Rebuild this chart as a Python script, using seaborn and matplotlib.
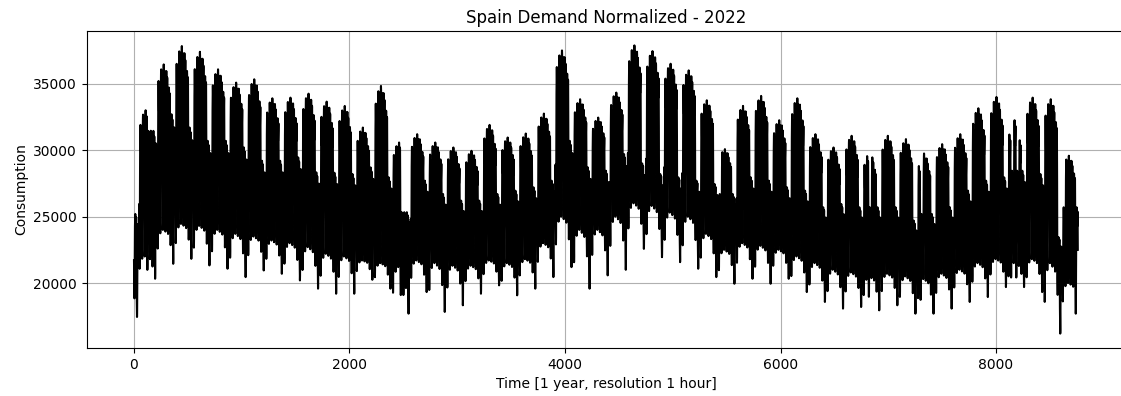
import numpy as np
import pandas as pd
import matplotlib
matplotlib.use("Agg")
import matplotlib.pyplot as plt
import seaborn as sns

# ---- data (week index 0 = Sat/Sun Jan 1-2, weeks start on Monday) ----
weekday_peak = [25200, 33000, 36450, 37830, 37400, 36080, 35080, 35330, 33900, 33950,
                34250, 33650, 33325, 31700, 34830, 30575, 31200, 30575, 30200, 29950,
                31900, 30950, 31250, 32750, 37500, 33830, 32450, 34330, 37880, 37450,
                36500, 36000, 33750, 30075, 33330, 34080, 32250, 33900, 31200, 30200,
                31080, 29830, 31080, 30830, 29750, 30450, 31200, 33150, 34000, 32250,
                33950, 33830, 29580]
weekday_low = [20000, 22000, 24000, 24450, 24300, 24000, 23700, 23500, 23200, 23000,
               22700, 22200, 22000, 21700, 21500, 21200, 21700, 21500, 21300, 21300,
               21700, 21500, 21800, 23000, 25000, 24000, 24000, 25000, 26000, 25800,
               25300, 25000, 23700, 22500, 23000, 22800, 22500, 22000, 21500, 21000,
               20800, 20500, 20700, 20500, 20300, 20700, 21000, 21500, 21800, 21500,
               21800, 21500, 20000]
weekend_peak = [25200, 31450, 32700, 31700, 30700, 30700, 30200, 29200, 29200, 29450,
                28330, 28300, 28200, 28700, 27950, 25330, 27700, 26700, 26200, 26200,
                26700, 26950, 27200, 27700, 30700, 28700, 28450, 29700, 29000, 28200,
                27950, 27700, 27450, 26700, 27950, 27700, 27200, 26950, 25700, 25950,
                25700, 25700, 25700, 24700, 25200, 25700, 26950, 27700, 27950, 28450,
                28200, 23450, 25700]
weekend_low = [17450, 20325, 21450, 21825, 21330, 21080, 20450, 20950, 20700, 20200,
               19580, 19200, 19200, 20250, 19580, 17700, 19325, 17830, 18330, 19200,
               19830, 19080, 19580, 20450, 21200, 19580, 20580, 21000, 22575, 21950,
               21575, 21080, 20450, 19950, 20325, 19950, 20325, 19325, 18580, 18080,
               18200, 17950, 18330, 17700, 17700, 18080, 18580, 18950, 19700, 19700,
               19325, 16200, 17700]
# national holidays (day of year, 0 = Jan 1)
holidays = [5, 103, 104, 226, 284, 304, 339, 341, 359]
# typical normalized daily profile (0 = night minimum, 1 = daily peak)
daily_profile = [0.45, 0.30, 0.16, 0.06, 0.00, 0.04, 0.20, 0.45, 0.70, 0.85, 0.93, 0.98,
                 1.00, 0.98, 0.90, 0.85, 0.82, 0.82, 0.85, 0.90, 0.96, 0.95, 0.80, 0.60]
# Mon..Fri share of the weekly peak range, and Mon..Fri night-low depth toward weekend low
weekday_peak_share = [0.90, 0.97, 1.00, 0.96, 0.86]
weekday_low_depth = [0.55, 0.10, 0.0, 0.05, 0.12]

# ---- build hourly series from the weekly readings ----
values = []
prof = np.array(daily_profile)
for d in range(365):
    wd = (d + 5) % 7
    w = (d + 5) // 7
    gap = weekday_low[w] - weekend_low[w]
    if d in holidays or wd == 6:
        peak = weekend_peak[w] * (0.97 if wd == 6 else 1.0)
        low = weekend_low[w] if wd == 6 else weekend_low[w] + 0.4 * gap
    elif wd == 5:
        peak = weekend_peak[w]
        low = weekend_low[w] if w == 52 else weekday_low[w] - 0.45 * gap
    else:
        low = weekday_low[w] - weekday_low_depth[wd] * gap
        peak = weekday_low[w] + (weekday_peak[w] - weekday_low[w]) * weekday_peak_share[wd]
    values.extend(low + (peak - low) * prof)

df = pd.DataFrame({"hour": np.arange(len(values)), "consumption": values})

fig = plt.figure(figsize=(11.21, 3.96), dpi=100)
ax = fig.add_axes([86.8 / 1121, 1 - 348 / 396, (1125 - 86.8) / 1121, (348 - 31) / 396])
sns.lineplot(data=df, x="hour", y="consumption", color="black", linewidth=1.5,
             estimator=None, ax=ax)
ax.grid(True)
ax.set_title("Spain Demand Normalized - 2022")
ax.set_xlabel("Time [1 year, resolution 1 hour]")
ax.set_ylabel("Consumption")
fig.savefig("out.png", dpi=100)
